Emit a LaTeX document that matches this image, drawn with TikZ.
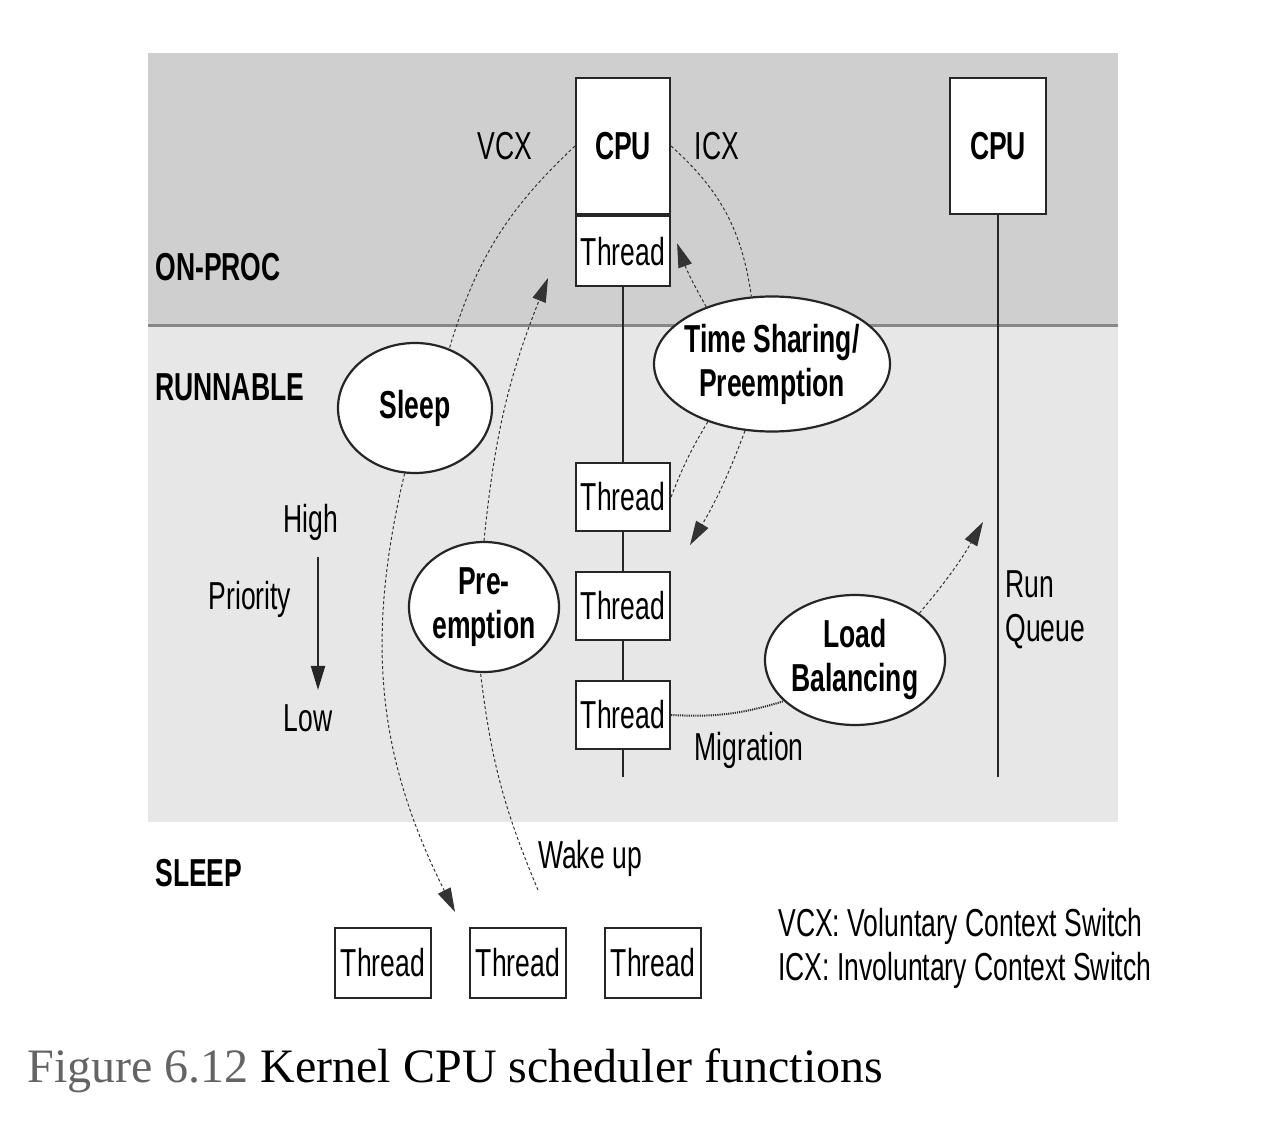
\documentclass[tikz,border=0pt]{standalone}
\usepackage{fontspec}
\setmainfont{Liberation Serif}
\newfontfamily\diagfont[FakeStretch=0.68]{Liberation Sans}
\usetikzlibrary{arrows.meta, shapes.geometric}

\definecolor{procgray}{RGB}{207,207,207}
\definecolor{rungray}{RGB}{231,231,231}
\definecolor{bandline}{RGB}{135,135,135}
\definecolor{capgray}{RGB}{100,100,100}

\tikzset{
  box/.style={draw=black!85, line width=1.1pt, fill=white, inner sep=0pt, font=\diagfont\fontsize{19.5}{22}\selectfont},
  bubble/.style={ellipse, draw=black!85, line width=1.1pt, fill=white, inner sep=-4pt, align=center, font=\diagfont\bfseries\fontsize{19.5}{22}\selectfont},
  txt/.style={inner sep=0pt, align=left, font=\diagfont\fontsize{19.5}{22}\selectfont},
  hdr/.style={inner sep=0pt, font=\diagfont\bfseries\fontsize{19.5}{22}\selectfont},
  dashflow/.style={draw=black!80, dash pattern=on 1.5pt off 1.2pt, line width=0.5pt},
  dotflow/.style={draw=black!80, dash pattern=on 0.6pt off 0.5pt, line width=1pt},
  headarrow/.style={-{Triangle[length=12pt, width=7pt]}},
}

\begin{document}
\begin{tikzpicture}[x=0.5pt, y=-0.5pt]
            \useasboundingbox (0,0) rectangle (1280,1122);
            \fill[procgray] (148,53) rectangle (1118,326);
            \fill[rungray] (148,326) rectangle (1118,822);
            \draw[bandline, line width=1.5pt] (148,326) -- (1118,326);
            \node[hdr, anchor=west] (onproc) at (155,267) {ON-PROC};
            \node[hdr, anchor=west] (runnable) at (155,387) {RUNNABLE};
            \node[hdr, anchor=west] (sleeping) at (155,873) {SLEEP};
            \node[box, anchor=north, minimum width=47pt, minimum height=68pt, font=\diagfont\bfseries\fontsize{19.5}{22}\selectfont] (cpuA) at (623,77) {CPU};
            \node[box, anchor=north, minimum width=47pt, minimum height=35pt] (threadA) at (cpuA.south) {Thread};
            \node[box, minimum width=47pt, minimum height=34pt] (waitA) at (623,497) {Thread};
            \node[box, minimum width=47pt, minimum height=34pt] (waitB) at (623,606) {Thread};
            \node[box, minimum width=47pt, minimum height=34pt] (waitC) at (623,715) {Thread};
            \node[box, anchor=north, minimum width=48pt, minimum height=68pt, font=\diagfont\bfseries\fontsize{19.5}{22}\selectfont] (cpuB) at (998,77) {CPU};
            \coordinate (queueAend) at (623,777);
            \coordinate (queueBend) at (998,777);
            \draw[black!85, line width=1.1pt] (threadA.south) -- (waitA.north);
            \draw[black!85, line width=1.1pt] (waitA.south) -- (waitB.north);
            \draw[black!85, line width=1.1pt] (waitB.south) -- (waitC.north);
            \draw[black!85, line width=1.1pt] (waitC.south) -- (queueAend);
            \draw[black!85, line width=1.1pt] (cpuB.south) -- (queueBend);
            \node[box, minimum width=48pt, minimum height=35pt] (sleptA) at (383,963) {Thread};
            \node[box, minimum width=48pt, minimum height=35pt] (sleptB) at (518,963) {Thread};
            \node[box, minimum width=48pt, minimum height=35pt] (sleptC) at (653,963) {Thread};
            \node[bubble, minimum width=118pt, minimum height=67.5pt] (timeshare) at (772,364) {Time Sharing/\\Preemption};
            \node[bubble, minimum width=77pt, minimum height=65pt] (sleep) at (415,408) {Sleep};
            \node[bubble, minimum width=75pt, minimum height=65pt] (preempt) at (484,607) {Pre-\\emption};
            \node[bubble, minimum width=90pt, minimum height=65pt] (balance) at (855,660) {Load\\Balancing};
            \node[txt] (vcx) at (505,146) {VCX};
            \node[txt] (icx) at (717,146) {ICX};
            \node[txt] (high) at (311,522) {High};
            \node[txt] (priority) at (250,599) {Priority};
            \node[txt] (low) at (308,718) {Low};
            \node[txt, anchor=west] (runqueue) at (1005,610) {Run\\Queue};
            \node[txt] (migration) at (749,750) {Migration};
            \node[txt] (wakeup) at (590,858) {Wake up};
            \node[txt, anchor=west] (legend) at (778,948) {VCX: Voluntary Context Switch\\ICX: Involuntary Context Switch};
            \node[anchor=base west, inner sep=0pt, font=\fontsize{24}{28}\selectfont] (caption) at (27,1082) {\textcolor{capgray}{Figure 6.12} Kernel CPU scheduler functions};
            \coordinate (prioTop) at (318,557);
            \coordinate (prioBot) at (318,690);
            \coordinate (sleepDrop) at (455,912);
            \coordinate (wakeStart) at (538,890);
            \coordinate (wakeEnd) at (548,278);
            \coordinate (shareEnd) at (690,545);
            \coordinate (balanceEnd) at (983,522);
            \draw[black!85, line width=1pt, headarrow] (prioTop) -- (prioBot);
            \draw[dashflow] (cpuA.west) to[bend right=15] (sleep.60);
            \draw[dashflow, headarrow] (sleep.261) to[bend right=20] (sleepDrop);
            \draw[dashflow] (wakeStart) to[bend left=8] (preempt.267);
            \draw[dashflow, headarrow] (preempt.90) to[bend left=8] (wakeEnd);
            \draw[dashflow] (cpuA.east) to[bend left=20] (timeshare.107);
            \draw[dashflow, headarrow] (timeshare.139) to[bend left=5] ([xshift=3pt, yshift=4pt]threadA.east);
            \draw[dashflow] (timeshare.222) to[bend right=5] (waitA.east);
            \draw[dashflow, headarrow] (timeshare.248) to[bend left=5] (shareEnd);
            \draw[dotflow] (waitC.east) to[bend right=10] (balance.210);
            \draw[dashflow, headarrow] (balance.36) to[bend right=5] (balanceEnd);
\end{tikzpicture}
\end{document}
